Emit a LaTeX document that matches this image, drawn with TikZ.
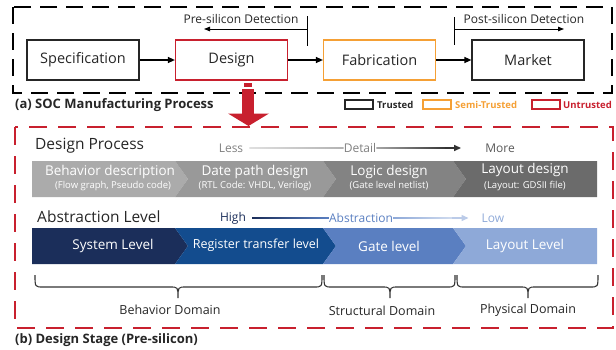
\documentclass[tikz,border=0pt]{standalone}
\usepackage{fontspec}
\setmainfont{Open Sans}
\usetikzlibrary{arrows.meta,calc}
\definecolor{ured}{HTML}{C8202E}
\definecolor{uorange}{HTML}{F5A035}
\definecolor{gA}{HTML}{ABABAB}
\definecolor{gB}{HTML}{999999}
\definecolor{gC}{HTML}{838383}
\definecolor{gD}{HTML}{6B6B6B}
\definecolor{bA}{HTML}{1B2E5A}
\definecolor{bB}{HTML}{134C8E}
\definecolor{bC}{HTML}{5A7FC1}
\definecolor{bD}{HTML}{8EA9D8}
\definecolor{txtdark}{HTML}{262626}
\begin{document}
\begin{tikzpicture}[x=1pt,y=-1pt,
  procbox/.style={draw, line width=1.2pt, minimum width=112pt, minimum height=40pt, inner sep=0pt, font=\fontsize{14.5}{16}\selectfont, text=txtdark},
  arr/.style={line width=1.3pt, -{Triangle[length=7pt,width=6pt]}},
  thinarr/.style={line width=0.9pt, -{Triangle[length=6pt,width=4.5pt]}},
  lbl/.style={inner sep=0pt, font=\fontsize{12}{14}\selectfont, text=txtdark},
  heading/.style={inner sep=0pt, anchor=west, font=\fontsize{15.5}{18}\selectfont, text=txtdark},
  caption/.style={inner sep=0pt, anchor=west, font=\bfseries\fontsize{13}{15}\selectfont, text=txtdark},
  legbox/.style={line width=1.3pt},
  legtxt/.style={inner sep=0pt, anchor=west, font=\bfseries\fontsize{9.5}{11}\selectfont},
  segtxt/.style={inner sep=0pt, text=white, font=\fontsize{13.5}{15}\selectfont},
  subtxt/.style={inner sep=0pt, text=white, font=\fontsize{9.5}{11}\selectfont},
  domtxt/.style={inner sep=0pt, font=\fontsize{12.5}{14}\selectfont, text=txtdark},
  scaletxt/.style={inner sep=0pt, font=\fontsize{12}{14}\selectfont},
  bracestyle/.style={line width=1.1pt, black!80}
]
\useasboundingbox (0,0) rectangle (616,349);

% ---------- (a) manufacturing process ----------
\draw[line width=1.4pt, dash pattern=on 17pt off 9pt] (13,7) rectangle (612,93);

\node[procbox, draw=black!85] (spec) at (83,60) {Specification};
\node[procbox, draw=ured] (design) at (231.5,60) {Design};
\node[procbox, draw=uorange] (fab) at (379.5,60) {Fabrication};
\node[procbox, draw=black!85] (market) at (528,60) {Market};

\draw[arr] (spec) -- (design);
\draw[arr] (design) -- (fab);
\draw[arr] (fab) -- (market);

\coordinate (pv1) at (307,16);
\coordinate (pv2) at (307,46);
\coordinate (ph) at (307,29);
\coordinate (pe) at (204,29);
\draw[line width=0.9pt] (pv1) -- (pv2);
\draw[thinarr] (ph) -- (pe);
\node[lbl] (pretxt) at (241,19) {Pre-silicon Detection};

\coordinate (qv1) at (454,17);
\coordinate (qv2) at (454,45);
\coordinate (qh) at (454,29);
\coordinate (qe) at (564,29);
\draw[line width=0.9pt] (qv1) -- (qv2);
\draw[thinarr] (qh) -- (qe);
\node[lbl] (posttxt) at (524,19) {Post-silicon Detection};

\node[caption] (capa) at (15,105) {(a) SOC Manufacturing Process};

\draw[legbox, black!85] (345,100) rectangle (373,109);
\node[legtxt, text=black!85] (lt1) at (377,105) {Trusted};
\draw[legbox, uorange] (423,100) rectangle (451,109);
\node[legtxt, text=uorange] (lt2) at (455,105) {Semi-Trusted};
\draw[legbox, ured] (532,100) rectangle (560,109);
\node[legtxt, text=ured] (lt3) at (563,105) {Untrusted};

% ---------- (b) design stage ----------
\draw[ured, line width=1.4pt, dash pattern=on 18pt off 11pt] (15,127) rectangle (613,328);

% big red arrow
\fill[ured] (244,83) rectangle (252,87);
\fill[ured] (242,89) rectangle (254,114);
\fill[ured] (228,113.5) -- (269,113.5) -- (248.5,126) -- cycle;

% Design process
\node[heading] (dp) at (35,146) {Design Process};
\node[scaletxt, text=gray] (less) at (231,148) {Less};
\node[scaletxt, text=gray] (detail) at (360,148) {Detail};
\node[scaletxt, text=black!65] (more) at (500,148) {More};
\shade[left color=gray!25, right color=gray!60] ($(less.east)+(6,-0.7)$) rectangle ($(detail.west)+(0,0.7)$);
\shade[left color=gray!70, right color=black!80] ($(detail.east)+(0,-0.7)$) rectangle ($(more.west)+(-38,0.7)$);
\draw[black!80, line width=1.4pt, -{Triangle[length=7pt,width=6pt]}] ($(more.west)+(-40,0)$) -- ($(more.west)+(-24,0)$);

\fill[gA] (32,161) -- (175,161) -- (188,179) -- (175,197) -- (32,197) -- cycle;
\fill[gB] (175,161) -- (323,161) -- (336,179) -- (323,197) -- (175,197) -- (188,179) -- cycle;
\fill[gC] (323,161) -- (453,161) -- (466,179) -- (453,197) -- (323,197) -- (336,179) -- cycle;
\fill[gD] (453,161) -- (597,161) -- (597,197) -- (453,197) -- (466,179) -- cycle;

\node[segtxt] (d1) at (110,172) {Behavior description};
\node[subtxt] (d1s) at (113,186) {(Flow graph, Pseudo code)};
\node[segtxt] (d2) at (255,172) {Date path design};
\node[subtxt] (d2s) at (255,186) {(RTL Code: VHDL, Verilog)};
\node[segtxt] (d3) at (389,172) {Logic design};
\node[subtxt] (d3s) at (389,186) {(Gate level netlist)};
\node[segtxt] (d4) at (525,170) {Layout design};
\node[subtxt] (d4s) at (525,186) {(Layout: GDSII file)};

% Abstraction level
\node[heading] (al) at (37,217) {Abstraction Level};
\node[scaletxt, text=bA] (high) at (233,218) {High};
\node[scaletxt, text=bC] (abst) at (361,218) {Abstraction};
\node[scaletxt, text=bD] (low) at (493,218) {Low};
\shade[left color=bA, right color=bC] ($(high.east)+(6,-0.7)$) rectangle ($(abst.west)+(0,0.7)$);
\shade[left color=bD, right color=bD!40] ($(abst.east)+(0,-0.7)$) rectangle ($(low.west)+(-28,0.7)$);
\draw[bD!60, line width=1.4pt, -{Triangle[length=7pt,width=6pt]}] ($(low.west)+(-30,0)$) -- ($(low.west)+(-13,0)$);

\fill[bA] (32,228) -- (175,228) -- (188,246) -- (175,264) -- (32,264) -- cycle;
\fill[bB] (175,228) -- (323,228) -- (336,246) -- (323,264) -- (175,264) -- (188,246) -- cycle;
\fill[bC] (323,228) -- (453,228) -- (466,246) -- (453,264) -- (323,264) -- (336,246) -- cycle;
\fill[bD] (453,228) -- (597,228) -- (597,264) -- (453,264) -- (466,246) -- cycle;

\node[segtxt] (a1) at (113,246) {System Level};
\node[segtxt, font=\fontsize{12.5}{14}\selectfont] (a2) at (256,245) {Register transfer level};
\node[segtxt] (a3) at (389,246) {Gate level};
\node[segtxt] (a4) at (525,246) {Layout Level};

% braces
\draw[bracestyle] (35,275) .. controls (35,287) .. (43,287) -- (170,287) .. controls (178,287) .. (178,298) .. controls (178,287) .. (186,287) -- (314,287) .. controls (322,287) .. (322,275);
\draw[bracestyle] (324,275) .. controls (324,287) .. (332,287) -- (382,287) .. controls (390,287) .. (390,298) .. controls (390,287) .. (398,287) -- (447,287) .. controls (455,287) .. (455,275);
\draw[bracestyle] (457,275) .. controls (457,287) .. (465,287) -- (520,287) .. controls (528,287) .. (528,298) .. controls (528,287) .. (536,287) -- (590,287) .. controls (598,287) .. (598,275);

\node[domtxt] (dom1) at (170,310) {Behavior Domain};
\node[domtxt] (dom2) at (382,311) {Structural Domain};
\node[domtxt] (dom3) at (528,310) {Physical Domain};

\node[caption] (capb) at (15,340) {(b) Design Stage (Pre-silicon)};
\end{tikzpicture}
\end{document}
